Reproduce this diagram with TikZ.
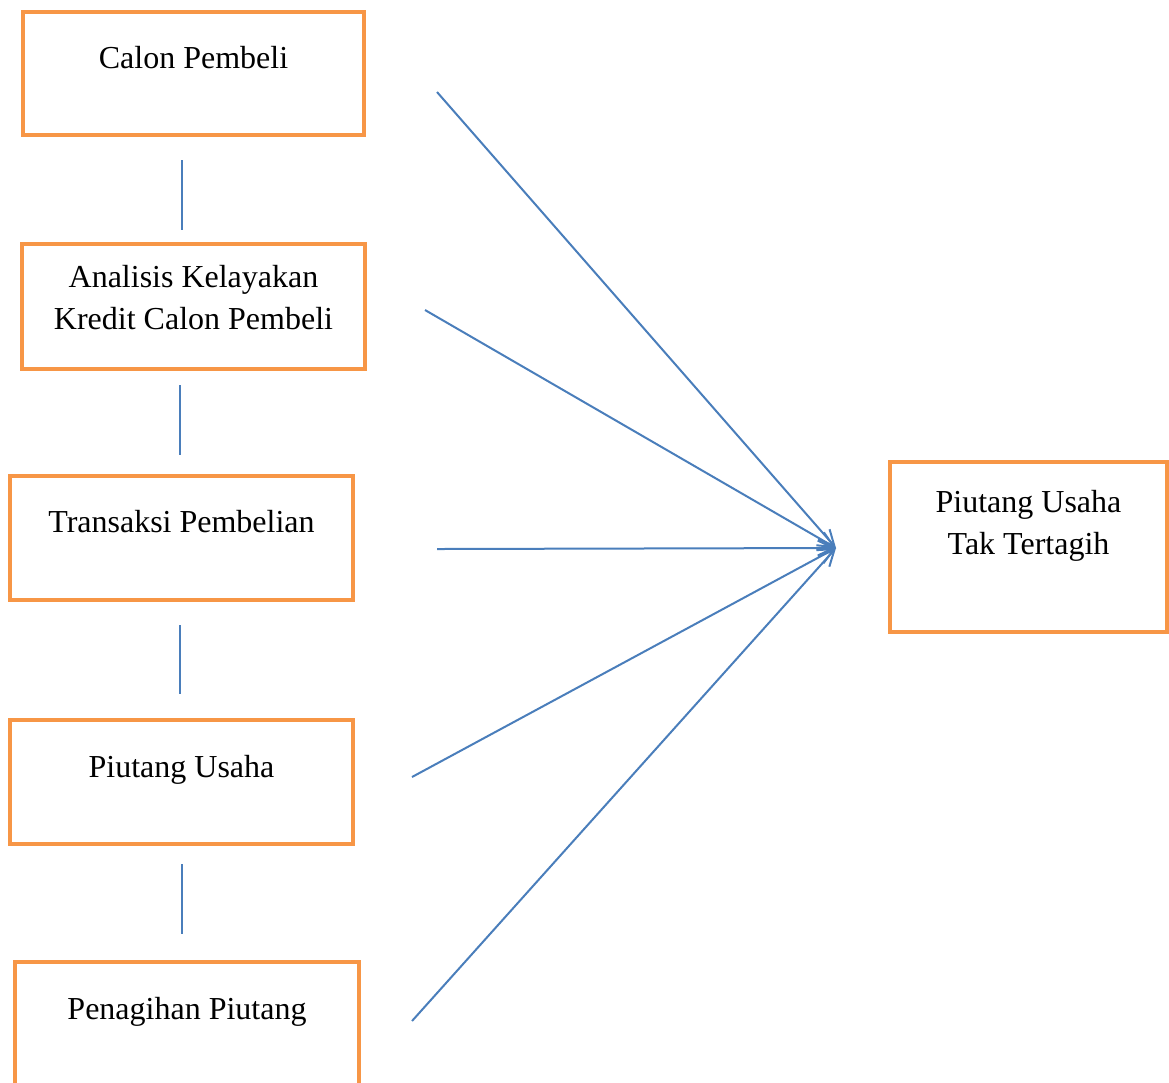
\documentclass[tikz,border=0pt]{standalone}
\usepackage{fontspec}
\setmainfont{Liberation Serif}
\usepackage{tikz}
\usetikzlibrary{arrows}
\usetikzlibrary{arrows.meta}
\definecolor{boxorange}{HTML}{F79646}
\definecolor{lineblue}{HTML}{4A7EBB}
\tikzset{
	box node/.style={rectangle,draw=boxorange,line width=2bp,inner sep=0pt,outer sep=0pt,anchor=north west},
	txt/.style={font=\fontsize{16bp}{21bp}\selectfont,align=center,anchor=base,inner sep=0pt},
	link/.style={draw=lineblue,line width=1bp}
}

\begin{document}
\begin{tikzpicture}[x=0.5bp,y=-0.5bp,>={Straight Barb[length=8bp,width=7.5bp]}]
	\useasboundingbox (0,0) rectangle (1169,1082);
	\clip (0,0) rectangle (1169,1082);
	% left column
	\node [box node,minimum width=170.5bp,minimum height=61.5bp,label={[txt,yshift=-28bp]north:Calon Pembeli}] (b1) at (23,12) {};
	\node [box node,minimum width=171.5bp,minimum height=62.5bp,label={[txt,yshift=-42.5bp]north:Analisis Kelayakan\\Kredit Calon Pembeli}] (b2) at (22,244) {};
	\node [box node,minimum width=171.5bp,minimum height=62bp,label={[txt,yshift=-28bp]north:Transaksi Pembelian}] (b3) at (10,476) {};
	\node [box node,minimum width=171.5bp,minimum height=62bp,label={[txt,yshift=-28.5bp]north:Piutang Usaha}] (b4) at (10,720) {};
	\node [box node,minimum width=172bp,minimum height=75bp,label={[txt,yshift=-28.5bp]north:Penagihan Piutang}] (b5) at (15,962) {};
	% right box
	\node [box node,minimum width=138.5bp,minimum height=85bp,label={[txt,yshift=-46bp]north:Piutang Usaha\\Tak Tertagih}] (b6) at (890,462) {};
	% vertical links
	\draw [link,shorten <=12.5bp,shorten >=7bp] ([xshift=-5.75bp]b1.south) -- ([xshift=-5.75bp]b1.south |- b2.north);
	\draw [link,shorten <=8bp,shorten >=10.5bp] ([xshift=-6.75bp]b2.south) -- ([xshift=-6.75bp]b2.south |- b3.north);
	\draw [link,shorten <=12.5bp,shorten >=13bp] ([xshift=-0.75bp]b3.south) -- ([xshift=-0.75bp]b3.south |- b4.north);
	\draw [link,shorten <=10bp,shorten >=14bp] ([xshift=0.25bp]b4.south) -- ([xshift=0.25bp]b4.south |- b5.north);
	% arrows to the right box
	\coordinate (t) at (836,548);
	\coordinate (s1) at (437,92);
	\coordinate (s2) at (425,310);
	\coordinate (s3) at (437,549);
	\coordinate (s4) at (412,777);
	\coordinate (s5) at (412,1021);
	\foreach \s in {s1,s2,s3,s4,s5}
		\draw [link,->] (\s) -- (t);
\end{tikzpicture}
\end{document}
